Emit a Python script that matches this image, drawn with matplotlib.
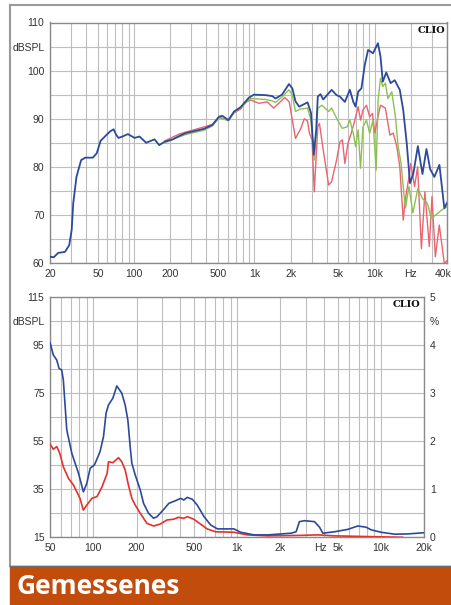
"""
Frequenzgang (oben) und Klirrfaktor (unten), CLIO-Messung.
"""
import numpy as np
import matplotlib
matplotlib.use("Agg")
import matplotlib.pyplot as plt
from matplotlib.lines import Line2D
from matplotlib.patches import Rectangle

# --- Frequenzgang: drei Kurven (blau = 0 Grad, gruen / rot = Winkel) ---
freq_blue = [20, 21.5, 23.4, 26.6, 28.9, 30.3, 31.2, 33.2, 36.3, 39.3, 45.4, 48.9,
             52.7, 58.8, 63.5, 67.6, 71.2, 74.2, 80, 88.9, 101, 111, 126, 148, 162,
             179, 209, 237, 268, 382, 448, 508, 542, 609, 678, 769, 903, 993, 1240,
             1410, 1500, 1700, 1940, 2070, 2200, 2360, 2770, 2960, 3120, 3270, 3370,
             3550, 3740, 4390, 4830, 5150, 5660, 6230, 6650, 6950, 7300, 7770, 8290,
             8830, 9700, 10660, 11200, 11700, 12500, 13600, 14700, 16200, 17300,
             18500, 19700, 21000, 22900, 25000, 27000, 29000, 31400, 34600, 38000,
             40000]
spl_blue = [61.3, 61.2, 62.1, 62.3, 63.7, 66.9, 72.4, 77.9, 81.4, 81.9, 81.9, 82.8,
            85.4, 86.6, 87.4, 87.8, 86.6, 86.0, 86.3, 86.8, 86.0, 86.3, 85.0, 85.7, 84.5,
            85.2, 85.7, 86.4, 87.0, 87.9, 88.7, 90.4, 90.6, 89.7, 91.5, 92.4, 94.4, 95.0,
            94.9, 94.7, 94.2, 95.0, 97.2, 96.3, 93.6, 92.5, 93.4, 91.2, 82.5, 87.7, 94.6,
            95.1, 94.0, 96.0, 94.9, 94.6, 93.5, 96.0, 93.5, 92.5, 95.6, 96.3, 101.2,
            104.3, 103.6, 105.7, 102.9, 97.7, 99.6, 97.4, 98.0, 96.0, 91.8,
            84.9, 76.6, 78.6, 84.3, 78.5, 83.7, 79.5, 77.9, 80.4, 71.4,
            72.5]

freq_red = [180, 237, 268, 382, 448, 508, 609, 678, 769, 850, 933, 1090, 1280, 1450,
            1790, 1950, 2200, 2440, 2600, 2770, 2870, 3020, 3150, 3370, 3480, 3740,
            4150, 4390, 4830, 5150, 5400, 5660, 6000, 6400, 6850, 7300, 7650, 8000,
            8560, 9100, 9600, 10050, 10660, 11200, 12300, 13400, 14300, 15300, 16200,
            17300, 18000, 19300, 20000, 21500, 22800, 24500, 26200, 28500, 30000,
            32000, 34500, 38000, 40000]
spl_red = [85.4, 86.8, 87.2, 88.3, 88.8, 90.3, 89.7, 91.2, 92.0, 93.4, 93.9, 93.2, 93.5,
           92.2, 94.4, 93.5, 85.9, 88.0, 90.0, 89.5, 87.0, 85.6, 74.8, 88.3, 89.0, 83.5,
           76.2, 76.9, 81.4, 85.2, 85.6, 80.7, 84.9, 87.0, 89.7, 92.5, 89.7, 91.8,
           92.8, 90.4, 91.1, 87.0, 90.4, 92.8, 92.2, 86.6, 87.0, 84.2, 80.0,
           68.9, 73.1, 77.9, 80.7, 75.9, 80.0, 63.0, 74.8, 63.4, 73.8,
           61.3, 67.9, 59.9, 60.5]

freq_green = [180, 237, 268, 382, 448, 508, 609, 678, 769, 903, 933, 1240, 1410, 1500,
              1700, 1940, 2070, 2200, 2400, 2770, 2960, 3150, 3300, 3370, 3650, 4150,
              4390, 4830, 5380, 5900, 6230, 6650, 6950, 7300, 7640, 8000, 8560, 9100,
              9700, 10300, 10700, 11200, 11700, 12300, 12900, 13900, 14900, 15700,
              16600, 17500, 18100, 19300, 20800, 22900, 25000, 27500, 29500, 32300,
              36000, 40000]
spl_green = [85.0, 86.2, 86.7, 87.6, 88.5, 90.2, 89.6, 91.3, 92.3, 94.0, 94.2, 94.0,
             93.7, 93.4, 94.5, 96.0, 94.9, 91.5, 92.0, 92.2, 89.7, 81.4, 87.7, 92.2,
             92.8, 91.5, 92.2, 90.1, 88.0, 88.3, 89.7, 87.0, 84.2, 87.7, 79.7, 88.3,
             89.7, 87.0, 89.7, 79.3, 93.9, 98.4, 96.7, 97.4, 94.2, 95.6, 90.4, 84.2,
             80.7, 74.5, 71.5, 75.9, 70.4, 75.5, 73.4, 72.4, 69.3, 70.0,
             71.0, 71.7]

# --- Klirrfaktor: zwei Kurven ---
freq_thd_blue = [50, 52.7, 55.7, 57.8, 60.3, 61.9, 65.4, 70.9, 78.9, 85.3, 90.1, 95.1,
                 101.9, 111.4, 117.7, 122.6, 127.5, 136.7, 145.7, 157.8, 166.5, 173.8,
                 175.5, 180.4, 185.3, 195.6, 212, 223.5, 242, 262.7, 277.5, 308.8,
                 334.8, 383, 404, 426, 450, 488, 528, 588, 655, 729, 950, 1056, 1310,
                 1630, 2020, 2370, 2570, 2710, 2940, 3450, 3740, 3940, 4750, 5880,
                 6900, 7880, 8540, 10000, 12400, 15300, 18000, 20000]
lvl_thd_blue = [96.0, 90.8, 88.7, 85.2, 84.5, 80.4, 59.6, 49.9, 41.6, 33.9, 37.4, 43.7,
                45.1, 50.6, 56.8, 66.5, 70.0, 72.8, 77.9, 74.9, 70.0, 63.8,
                61.0, 52.7, 45.8, 40.9, 34.7, 29.1, 25.0, 22.9, 23.6, 26.6,
                29.1, 30.5, 31.2, 30.5, 31.6, 30.8, 28.4, 23.6, 20.1, 18.5, 18.5, 17.1,
                16.0, 16.0, 16.4, 16.7, 17.3, 21.5, 21.9, 21.5, 19.2, 16.7, 17.3, 18.3,
                19.7, 19.2, 18.1, 17.1, 16.3, 16.4, 16.7, 16.9]

freq_thd_red = [50, 52.7, 55.7, 58.5, 61.9, 67.2, 72.8, 80.8, 85.3, 90.1, 97.8, 106,
                115, 124.8, 127.5, 136.7, 149.7, 157.8, 166.5, 175.5, 185.3, 195.6, 212,
                235.8, 262.7, 292, 325, 361, 391, 426, 450, 500, 556, 618, 706, 950,
                1175, 1630, 2790, 3640, 4750, 8100, 14100]
lvl_thd_red = [53.8, 51.6, 52.7, 49.9, 44.3, 39.5, 36.7, 31.2, 26.3, 28.4, 31.2, 31.9,
               36.0, 41.6, 46.4, 46.0, 48.1, 46.4, 43.0, 36.7, 31.2, 28.4, 25.0,
               20.8, 19.7, 20.5, 22.2, 22.5, 23.3, 22.9, 23.6, 22.5, 20.5, 18.5, 17.3, 17.1,
               16.0, 15.6, 15.8, 16.0, 15.6, 15.3, 15.0]

# Achsenbeschriftungen
top_xticks = [20, 50, 100, 200, 500, 1000, 2000, 5000, 10000, 20000]
top_xlabels = ['20', '50', '100', '200', '500', '1k', '2k', '5k', '10k', 'Hz']
top_last_label = '40k'
top_yticks = [60, 70, 80, 90, 100, 105, 110]
top_ylabels = ['60', '70', '80', '90', '100', 'dBSPL', '110']
bot_xticks = [50, 100, 200, 500, 1000, 2000, 3800, 5000, 10000, 20000]
bot_xlabels = ['50', '100', '200', '500', '1k', '2k', 'Hz', '5k', '10k', '20k']
bot_yticks = [15, 35, 55, 75, 95, 105, 115]
bot_ylabels = ['15', '35', '55', '75', '95', 'dBSPL', '115']
bot_rticks = [0, 1, 2, 3, 4, 4.5, 5]
bot_rlabels = ['0', '1', '2', '3', '4', '%', '5']

BLUE = '#2c4a9a'
RED_TOP = '#ea6470'
GREEN = '#8cc152'
RED_BOT = '#e2322a'
GRID = '#bdbdbd'
SPINE = '#8a8a8a'
TXT = '#333333'
ORANGE = '#c24c0c'

W, H = 452, 605
fig = plt.figure(figsize=(W / 100, H / 100), dpi=100)
plt.rcParams['font.family'] = ['Liberation Sans', 'DejaVu Sans']


def px_axes(x0, y0, x1, y1):
    """Axes aus Pixelkoordinaten (oben links Ursprung)."""
    return fig.add_axes([x0 / W, 1 - y1 / H, (x1 - x0) / W, (y1 - y0) / H])


def minor_grid_positions(lo, hi):
    vals = []
    for dec in [10, 100, 1000, 10000]:
        for m in range(1, 10):
            v = m * dec
            if lo <= v <= hi:
                vals.append(v)
    return vals


def style_axes(ax, xlo, xhi, ylo, yhi, ystep):
    ax.set_xscale('log')
    ax.set_xlim(xlo, xhi)
    ax.set_ylim(ylo, yhi)
    for v in minor_grid_positions(xlo, xhi):
        ax.axvline(v, color=GRID, lw=0.8, zorder=0)
    for v in np.arange(ylo, yhi + 0.1, ystep):
        ax.axhline(v, color=GRID, lw=0.8, zorder=0)
    for s in ax.spines.values():
        s.set_color(SPINE)
        s.set_linewidth(1.0)
    ax.xaxis.set_minor_locator(matplotlib.ticker.NullLocator())
    ax.tick_params(length=0, labelsize=7.5, labelcolor=TXT, pad=4)


# ---------------- oben: Frequenzgang ----------------
ax1 = px_axes(50, 22.5, 447, 263)
style_axes(ax1, 20, 40000, 60, 110, 5)
ax1.plot(freq_red, spl_red, color=RED_TOP, lw=1.0, zorder=2)
ax1.plot(freq_green, spl_green, color=GREEN, lw=1.0, zorder=3)
ax1.plot(freq_blue, spl_blue, color=BLUE, lw=1.3, zorder=4)
ax1.set_xticks(top_xticks)
ax1.set_xticklabels(top_xlabels)
ax1.set_yticks(top_yticks)
ax1.set_yticklabels(top_ylabels)
# letzte Beschriftung sitzt am rechten Bildrand, etwas eingerueckt
ax1.text(0.99, -5.6 / 240.5, top_last_label, transform=ax1.transAxes,
         ha='center', va='top', fontsize=7.5, color=TXT, clip_on=False)
ax1.text(0.995, 0.985, 'CLIO', transform=ax1.transAxes, ha='right', va='top',
         fontsize=7, fontweight='bold', family='DejaVu Serif', color='#111111')

# ---------------- unten: Klirrfaktor ----------------
ax2 = px_axes(50, 296.7, 424.3, 537.3)
style_axes(ax2, 50, 20000, 15, 115, 10)
ax2.plot(freq_thd_red, lvl_thd_red, color=RED_BOT, lw=1.2, zorder=3)
ax2.plot(freq_thd_blue, lvl_thd_blue, color=BLUE, lw=1.2, zorder=4)
ax2.set_xticks(bot_xticks)
ax2.set_xticklabels(bot_xlabels)
ax2.set_yticks(bot_yticks)
ax2.set_yticklabels(bot_ylabels)
ax2.text(0.99, 0.985, 'CLIO', transform=ax2.transAxes, ha='right', va='top',
         fontsize=7, fontweight='bold', family='DejaVu Serif', color='#111111')

ax2r = ax2.twinx()
ax2r.set_ylim(0, 5)
ax2r.set_yticks(bot_rticks)
ax2r.set_yticklabels(bot_rlabels)
ax2r.tick_params(length=0, labelsize=7.5, labelcolor=TXT, pad=4)
for s in ax2r.spines.values():
    s.set_visible(False)

# ---------------- Rahmen und Balken ----------------
fig.add_artist(Line2D([10 / W, 10 / W], [1 - 566 / H, 1 - 5 / H], color='#9a9a9a', lw=1.5))
fig.add_artist(Line2D([10 / W, 1], [1 - 5 / H, 1 - 5 / H], color='#9a9a9a', lw=1.5))
fig.add_artist(Rectangle((10 / W, 0), 1 - 10 / W, (H - 566) / H,
                         transform=fig.transFigure, color=ORANGE, zorder=5))
fig.add_artist(Line2D([10 / W, 1], [1 - 566 / H, 1 - 566 / H], color='#6a6a6a', lw=1.0,
                      zorder=6))
fig.text(16 / W, 1 - 587 / H, 'Gemessenes', color='white', fontsize=19,
         fontweight='bold', family='Open Sans', va='center', ha='left', zorder=7)

fig.savefig('out.png', dpi=100)
